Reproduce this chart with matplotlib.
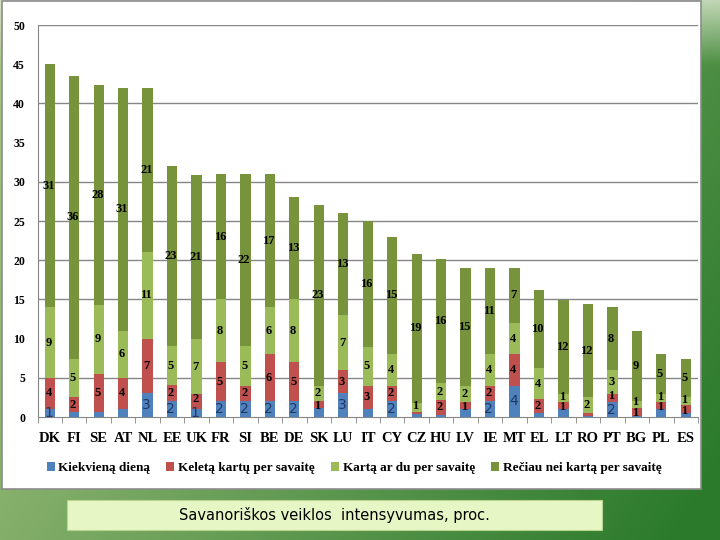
import numpy as np
import matplotlib.pyplot as plt
from matplotlib.patches import Rectangle

#%% Duomenys
salys = ['DK', 'FI', 'SE', 'AT', 'NL', 'EE', 'UK', 'FR', 'SI', 'BE', 'DE', 'SK', 'LU',
         'IT', 'CY', 'CZ', 'HU', 'LV', 'IE', 'MT', 'EL', 'LT', 'RO', 'PT', 'BG', 'PL', 'ES']

# segmentu aukstis (nuskaityta is paveikslo)
kasdien = [1.0, 0.6, 0.6, 1.0, 3, 2, 1.0, 2, 2, 2, 2, 1.2, 3,
           1.0, 2, 0.4, 0.3, 1.0, 2, 4, 0.5, 1.0, 0.1, 1.9, 0.1, 1.0, 0.5]
keleta = [4, 1.9, 4.9, 4, 7, 2.1, 1.9, 5, 2, 6, 5, 0.8, 3,
          3, 2, 0.3, 1.9, 0.9, 2, 4, 1.8, 0.9, 0.4, 1.0, 1.1, 0.9, 1.0]
karta_du = [9, 4.9, 8.8, 6, 11, 4.9, 7, 8, 5, 6, 8, 2, 7,
            4.9, 4, 1.1, 2.1, 2.1, 4, 4, 3.9, 1.0, 2, 3.1, 0.9, 1.0, 1.0]
reciau = [31, 36.1, 28.0, 31, 21, 23, 21, 16, 22, 17, 13, 23, 13,
          16.1, 15, 19, 15.8, 15, 11, 7, 10, 12, 11.9, 8, 8.9, 5.1, 4.9]

# uzrasai ant segmentu (None - nerodomas)
kasdien_txt = [1, None, None, None, 3, 2, 1, 2, 2, 2, 2, None, 3,
               None, 2, None, None, None, 2, 4, None, None, None, 2, None, None, None]
keleta_txt = [4, 2, 5, 4, 7, 2, 2, 5, 2, 6, 5, 1, 3,
              3, 2, None, 2, 1, 2, 4, 2, 1, None, 1, 1, 1, 1]
karta_du_txt = [9, 5, 9, 6, 11, 5, 7, 8, 5, 6, 8, 2, 7,
                5, 4, 1, 2, 2, 4, 4, 4, 1, 2, 3, 1, 1, 1]
reciau_txt = [31, 36, 28, 31, 21, 23, 21, 16, 22, 17, 13, 23, 13,
              16, 15, 19, 16, 15, 11, 7, 10, 12, 12, 8, 9, 5, 5]

serijos = ['Kiekvieną dieną', 'Keletą kartų per savaitę',
           'Kartą ar du per savaitę', 'Rečiau nei kartą per savaitę']
spalvos = ['#4f81bd', '#c0504d', '#9bbb59', '#77933c']

#%% Figura ir fonas
fig = plt.figure(figsize=(7.2, 5.4), dpi=100)

bg = fig.add_axes([0, 0, 1, 1], zorder=-10)
gx, gy = np.meshgrid(np.linspace(0, 1, 300), np.linspace(0, 1, 220))
t = np.clip(0.75 * gx + 0.35 * gy - 0.05, 0, 1)
sviesi = np.array([0.66, 0.77, 0.52])
tamsi = np.array([0.17, 0.48, 0.17])
img = sviesi * (1 - t[..., None]) + tamsi * t[..., None]
# sviesesnis kampas virsuje desineje
balta = np.clip(1 - gy / 0.12, 0, 1)[..., None] * 0.75
img = img * (1 - balta) + np.array([0.9, 0.93, 0.85]) * balta
bg.imshow(img, aspect='auto', extent=[0, 1, 1, 0])
bg.set_xlim(0, 1)
bg.set_ylim(1, 0)
bg.axis('off')

fig.patches.append(Rectangle((2 / 720, 51 / 540), 699 / 720, 488 / 540,
                             transform=fig.transFigure, facecolor='white',
                             edgecolor='#8c8c8c', lw=1.2, zorder=-5))

#%% Stulpeliai
ax = fig.add_axes([37.5 / 720, 123 / 540, 660.5 / 720, 392 / 540])
ax.set_facecolor('none')
x = np.arange(len(salys))
w = 0.42

duomenys = [kasdien, keleta, karta_du, reciau]
uzrasai = [kasdien_txt, keleta_txt, karta_du_txt, reciau_txt]
apacia = np.zeros(len(salys))
for k in range(4):
    v = np.array(duomenys[k], dtype=float)
    ax.bar(x, v, w, bottom=apacia, color=spalvos[k], label=serijos[k], zorder=3)
    for i in range(len(salys)):
        if uzrasai[k][i] is None:
            continue
        yy = apacia[i] + v[i] / 2
        # maziems segmentams uzrasus truputi praskiriam
        if v[i] < 1.3 and k == 1 and kasdien_txt[i] is None:
            yy -= 0.2
        if v[i] < 2 and k == 1 and kasdien_txt[i] is not None:
            yy += 0.3
        if v[i] < 1.3 and k == 2:
            yy += 0.2
        if k == 0:
            ax.text(x[i] - 0.05, yy, str(uzrasai[k][i]), ha='center',
                    va='center', fontsize=10, color='#1f3864',
                    family='Liberation Sans Narrow', zorder=4)
        else:
            ax.text(x[i] - 0.05, yy, str(uzrasai[k][i]), ha='center',
                    va='center', fontsize=9, fontweight='bold', color='black',
                    family='Liberation Serif', zorder=4)
    apacia += v

ax.set_xlim(-0.5, len(salys) - 0.5)
ax.set_ylim(0, 50)
ax.set_yticks(np.arange(0, 51, 5))
ax.set_yticklabels([str(v) for v in range(0, 51, 5)], family='Liberation Serif',
                   fontweight='bold', fontsize=8.5)
for g in [5, 15, 20, 25, 30, 40, 50]:
    ax.axhline(g, color='#868686', lw=1, zorder=1)

ax.set_xticks(x)
ax.set_xticklabels(salys, family='Liberation Serif', fontweight='bold', fontsize=10.5)
ax.set_xticks(np.arange(-0.5, len(salys), 1), minor=True)
ax.tick_params(axis='x', which='major', length=0, pad=11)
ax.tick_params(axis='x', which='minor', length=4, color='#868686')
ax.tick_params(axis='y', length=0, pad=9)

for s in ['top', 'right']:
    ax.spines[s].set_visible(False)
ax.spines['left'].set_color('#868686')
ax.spines['bottom'].set_color('#868686')

leg = fig.legend(loc='center', bbox_to_anchor=(354 / 720, 72 / 540), ncol=4,
                 frameon=False, handlelength=0.6, handleheight=0.6, handletextpad=0.3,
                 columnspacing=1.2,
                 prop={'family': 'Liberation Serif', 'weight': 'bold', 'size': 9.5})

#%% Antraste apacioje
fig.patches.append(Rectangle((67 / 720, 10 / 540), 535 / 720, 30 / 540,
                             transform=fig.transFigure, facecolor='#e6f6c4',
                             edgecolor='#b9d48e', lw=0.8, zorder=2))
fig.text(334 / 720, 25 / 540, 'Savanoriškos veiklos  intensyvumas, proc.',
         ha='center', va='center', fontsize=10.5,
         family=['Liberation Sans Narrow', 'DejaVu Sans'], zorder=3)

fig.savefig('out.png', dpi=100)
